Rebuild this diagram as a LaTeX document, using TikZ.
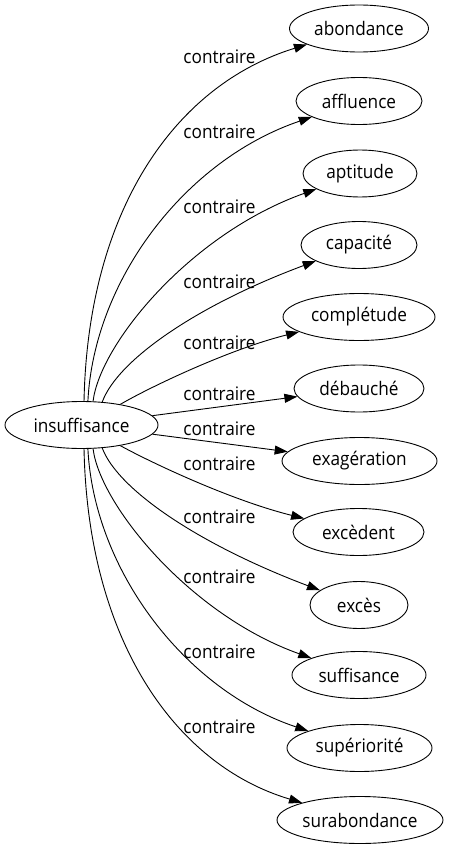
\documentclass[tikz,border=0pt]{standalone}
\usepackage{fontspec}
\setmainfont{Open Sans}[FakeStretch=0.92]
\usetikzlibrary{arrows.meta,shapes.geometric}
\begin{document}
\begin{tikzpicture}[x=1pt,y=-1pt,
  word/.style={ellipse,draw,line width=0.9pt,inner sep=0pt,minimum height=47pt,font=\fontsize{18.7}{20}\selectfont},
  lbl/.style={inner sep=0pt,font=\fontsize{18.7}{20}\selectfont},
  rel/.style={line width=0.9pt,-{Triangle[length=13pt,width=9pt]}}]
\useasboundingbox (0,0) rectangle (450,851);
\node[word,minimum width=153pt] (ins) at (81.5,425) {insuffisance};
\node[word,minimum width=139pt] (abondance) at (359,28.5) {abondance};
\node[word,minimum width=126pt] (affluence) at (359,101) {affluence};
\node[word,minimum width=114pt] (aptitude) at (360,173.5) {aptitude};
\node[word,minimum width=116pt] (capacite) at (359,245) {capacité};
\node[word,minimum width=152pt] (completude) at (359,317) {complétude};
\node[word,minimum width=130pt] (debauche) at (359,388.5) {débauché};
\node[word,minimum width=155pt] (exageration) at (359.5,461) {exagération};
\node[word,minimum width=131pt] (excedent) at (358.5,532) {excèdent};
\node[word,minimum width=98pt] (exces) at (359,605) {excès};
\node[word,minimum width=134pt] (suffisance) at (359,675) {suffisance};
\node[word,minimum width=145pt] (superiorite) at (359.5,748) {supériorité};
\node[word,minimum width=166pt] (surabondance) at (360,820) {surabondance};
\node[lbl] (l1) at (219.5,57) {contraire};
\node[lbl] (l2) at (219.5,132) {contraire};
\node[lbl] (l3) at (219.5,207) {contraire};
\node[lbl] (l4) at (219.5,282) {contraire};
\node[lbl] (l5) at (219.5,343) {contraire};
\node[lbl] (l6) at (219.5,394) {contraire};
\node[lbl] (l7) at (219.5,429) {contraire};
\node[lbl] (l8) at (219.5,464) {contraire};
\node[lbl] (l9) at (219.5,517) {contraire};
\node[lbl] (l10) at (219.5,577) {contraire};
\node[lbl] (l11) at (219.5,652) {contraire};
\node[lbl] (l12) at (219.5,727) {contraire};
\draw[rel] (ins.84) .. controls (88,210) and (175,85) .. (abondance);
\draw[rel] (ins.75) .. controls (94,280) and (185,160) .. (affluence);
\draw[rel] (ins.64) .. controls (100,344) and (190,234) .. (aptitude);
\draw[rel] (ins.48) .. controls (118,359) and (200,304) .. (capacite);
\draw[rel] (ins.28) .. controls (150,387) and (230,349) .. (completude);
\draw[rel] (ins) -- (debauche);
\draw[rel] (ins) -- (exageration);
\draw[rel] (ins.-28) .. controls (150,462) and (230,500) .. (excedent);
\draw[rel] (ins.-48) .. controls (118,490) and (200,545) .. (exces);
\draw[rel] (ins.-64) .. controls (100,505) and (190,615) .. (suffisance);
\draw[rel] (ins.-75) .. controls (94,570) and (185,690) .. (superiorite);
\draw[rel] (ins.-84) .. controls (88,640) and (175,765) .. (surabondance);
\end{tikzpicture}
\end{document}
